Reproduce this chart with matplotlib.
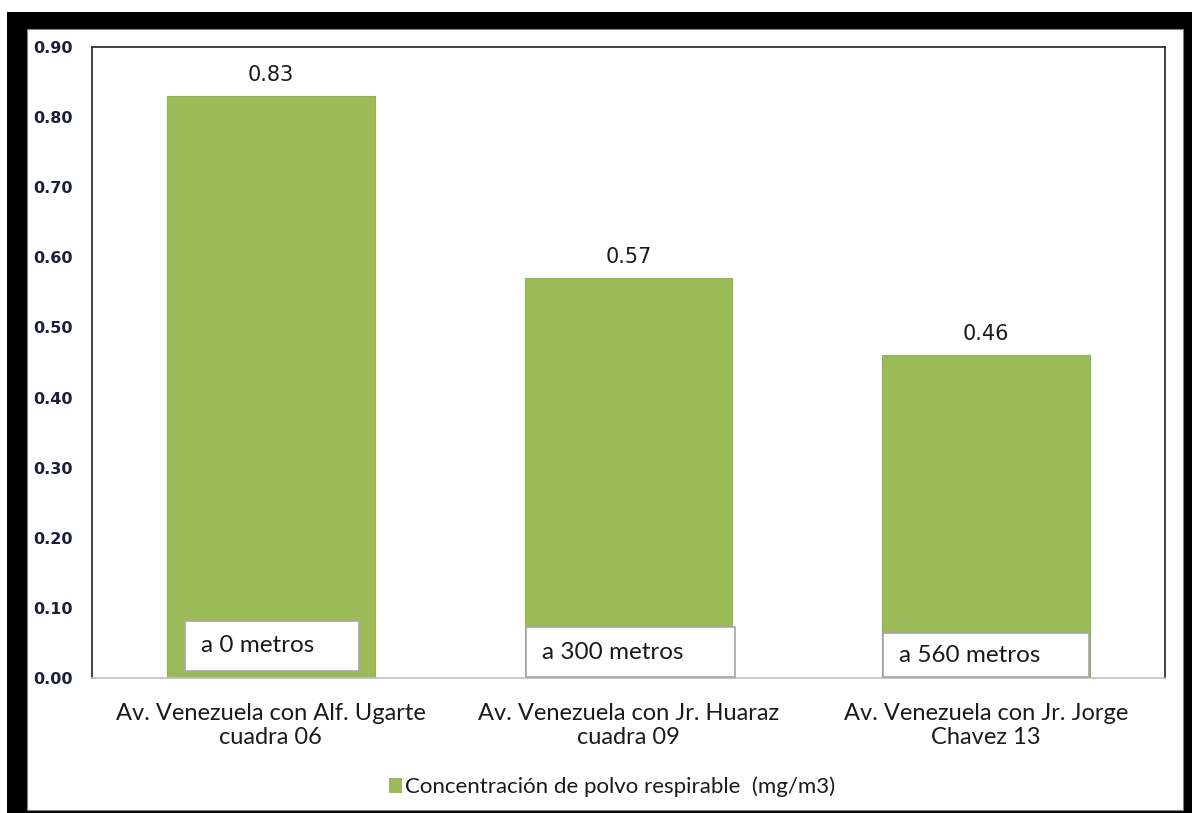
import matplotlib
matplotlib.use("Agg")
import matplotlib.pyplot as plt
from matplotlib.patches import Rectangle

# Data
categories = ["Av. Venezuela con Alf. Ugarte\ncuadra 06",
              "Av. Venezuela con Jr. Huaraz\ncuadra 09",
              "Av. Venezuela con Jr. Jorge\nChavez 13"]
values = [0.83, 0.57, 0.46]
distance_labels = ["a 0 metros", "a 300 metros", "a 560 metros"]
yticks = [0.0, 0.1, 0.2, 0.3, 0.4, 0.5, 0.6, 0.7, 0.8, 0.9]
series_name = "Concentración de polvo respirable  (mg/m3)"

BAR_COLOR = "#9BBB59"
TEXT_FONT = ["Lato", "DejaVu Sans"]

W, H = 1192, 813
fig = plt.figure(figsize=(W / 100, H / 100), dpi=100)
fig.patch.set_facecolor("white")

# Thick black picture frame
fig.patches.append(Rectangle((7 / W, 0), (W - 7) / W, (H - 12) / H,
                             transform=fig.transFigure, facecolor="black",
                             edgecolor="none", zorder=-10))
fig.patches.append(Rectangle((27 / W, 3 / H), 1156 / W, 781 / H,
                             transform=fig.transFigure, facecolor="white",
                             edgecolor="#808080", linewidth=0.8, zorder=-9))

ax = fig.add_axes([92 / W, (H - 678) / H, (1165 - 92) / W, (678 - 47) / H])
x = list(range(len(categories)))
bars = ax.bar(x, values, width=0.58, color=BAR_COLOR, edgecolor="#93B353",
              linewidth=0.8, zorder=2)

ax.set_xlim(-0.5, len(categories) - 0.5)
ax.set_ylim(0, 0.9)
ax.set_yticks(yticks)
ax.set_yticklabels([f"{v:.2f}" for v in yticks], fontsize=11.5, fontweight="bold",
                   color="#1c1f3c", family="DejaVu Sans")
ax.tick_params(axis="y", length=0, pad=14)
ax.set_xticks(x)
ax.set_xticklabels(categories, fontsize=17, family=TEXT_FONT, color="#1a1a1a",
                   linespacing=1.2)
ax.tick_params(axis="x", length=0, pad=18)

for side in ["left", "top", "right"]:
    ax.spines[side].set_color("#333333")
    ax.spines[side].set_linewidth(1.3)
ax.spines["bottom"].set_color("#BFBFBF")
ax.spines["bottom"].set_linewidth(1.2)

# Value labels above bars
for xi, v in zip(x, values):
    ax.annotate(f"{v:.2f}", (xi, v), xytext=(0, 8), textcoords="offset points",
                ha="center", va="bottom", fontsize=15, family="DejaVu Sans",
                color="#1a1a1a")

# Distance boxes inside the bars (x0, x1, y0, y1 in data units)
box_extents = [(-0.240, 0.246, 0.0100, 0.0813),
               (0.713, 1.298, 0.0014, 0.0727),
               (1.711, 2.287, 0.0014, 0.0642)]
for (x0, x1, y0, y1), label in zip(box_extents, distance_labels):
    ax.add_patch(Rectangle((x0, y0), x1 - x0, y1 - y0, facecolor="white",
                           edgecolor="#A6A6A6", linewidth=1.2, zorder=3))
    ax.text(x0 + 0.045, (y0 + y1) / 2, label, ha="left", va="center",
            fontsize=17.5, family=TEXT_FONT, color="#1a1a1a", zorder=4)

# Legend
handle = Rectangle((0, 0), 1, 1, facecolor=BAR_COLOR, edgecolor="none")
fig.legend([handle], [series_name], loc="center",
           bbox_to_anchor=(612 / W, (H - 787) / H), frameon=False,
           prop={"family": TEXT_FONT, "size": 16}, handlelength=0.6,
           handleheight=0.6, handletextpad=0.15, labelcolor="#1a1a1a")

fig.savefig("out.png", dpi=100)
